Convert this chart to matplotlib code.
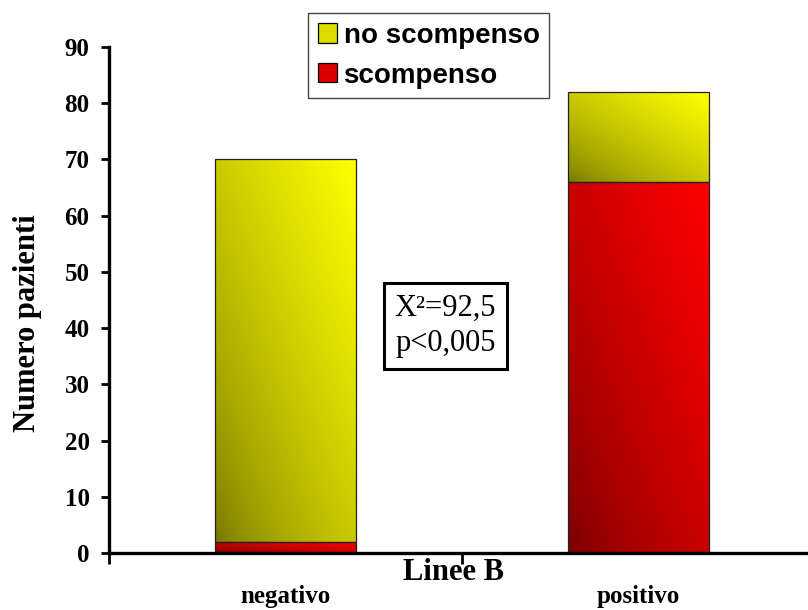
import numpy as np
import matplotlib.pyplot as plt
from matplotlib.patches import Patch

# ---------------------------
# DATA
# ---------------------------
categories = ["negativo", "positivo"]
scompenso = [2, 66]
no_scompenso = [68, 16]
y_ticks = [0, 10, 20, 30, 40, 50, 60, 70, 80, 90]

# gradient end colours (dark -> bright)
yellow_dark, yellow_bright = (0.46, 0.46, 0.0), (1.0, 1.0, 0.0)
red_dark, red_bright = (0.46, 0.0, 0.0), (1.0, 0.0, 0.0)

serif = "Liberation Serif"
sans = "Liberation Sans"


def gradient_fill(ax, rect, c0, c1, n=64):
    # diagonal gradient: dark bottom-left, bright top-right
    x0, y0 = rect.get_x(), rect.get_y()
    w, h = rect.get_width(), rect.get_height()
    u = np.linspace(0, 1, n)
    uu, vv = np.meshgrid(u, u)
    t = ((uu + vv) / 2) ** 0.7
    img = np.zeros((n, n, 3))
    for k in range(3):
        img[..., k] = c0[k] + t * (c1[k] - c0[k])
    ax.imshow(img, extent=(x0, x0 + w, y0, y0 + h), origin="lower",
              aspect="auto", zorder=2, interpolation="bilinear")


# ---------------------------
# PLOT
# ---------------------------
fig = plt.figure(figsize=(8.08, 6.10), dpi=100)
ax = fig.add_axes([109 / 808, 57 / 610, 706 / 808, 506 / 610])

x = np.arange(len(categories))
bw = 0.40
bars_red = ax.bar(x, scompenso, width=bw, facecolor="none",
                  edgecolor="#222222", linewidth=0.9, zorder=3)
bars_yel = ax.bar(x, no_scompenso, width=bw, bottom=scompenso, facecolor="none",
                  edgecolor="#222222", linewidth=0.9, zorder=3)
for r in bars_red:
    gradient_fill(ax, r, red_dark, red_bright)
for r in bars_yel:
    gradient_fill(ax, r, yellow_dark, yellow_bright)

ax.set_xlim(-0.5, 1.5)
ax.set_ylim(0, 90)

for s in ["top", "right"]:
    ax.spines[s].set_visible(False)
for s in ["left", "bottom"]:
    ax.spines[s].set_linewidth(2.4)
    ax.spines[s].set_zorder(4)

ax.set_yticks(y_ticks)
ax.set_yticklabels([str(v) for v in y_ticks], fontfamily=serif,
                   fontweight="bold", fontsize=18)
ax.tick_params(axis="y", direction="out", length=6, width=2, pad=8)

ax.set_xticks(x)
ax.set_xticklabels(categories, fontfamily=serif, fontweight="bold", fontsize=18)
ax.tick_params(axis="x", which="major", length=0, pad=23)
ax.set_xticks([-0.5, 0.5, 1.5], minor=True)
ax.tick_params(axis="x", which="minor", direction="out", length=8, width=2)

ax.set_xlabel("Linee B", fontfamily=serif, fontweight="bold", fontsize=22)
ax.xaxis.set_label_coords((453 - 109) / 706, (553 - 572) / 506)
ax.xaxis.label.set_va("center")

ax.set_ylabel("Numero pazienti", fontfamily=serif, fontweight="bold", fontsize=22)
ax.yaxis.set_label_coords((28 - 109) / 706, (553 - 323) / 506)
ax.yaxis.label.set_va("center")

ax.text(0.453, 40.4, "X²=92,5\np<0,005", fontfamily=serif, fontsize=22,
        ha="center", va="center", linespacing=1.25, zorder=5,
        bbox=dict(boxstyle="square,pad=0.36", facecolor="white",
                  edgecolor="black", linewidth=2.2))

handles = [Patch(facecolor=(0.86, 0.86, 0.0), edgecolor="black", linewidth=0.9),
           Patch(facecolor=(0.85, 0.0, 0.0), edgecolor="black", linewidth=0.9)]
leg = fig.legend(handles, ["no scompenso", "scompenso"], loc="upper left",
                 bbox_to_anchor=(308 / 808, 1 - 13 / 610),
                 prop=dict(family=sans, weight="bold", size=20),
                 handlelength=0.68, handleheight=0.68, handletextpad=0.25,
                 labelspacing=0.5, borderpad=0.35, borderaxespad=0,
                 fancybox=False, framealpha=1)
leg.get_frame().set_edgecolor("#444444")
leg.get_frame().set_linewidth(1.0)

fig.savefig("out.png", dpi=100)
